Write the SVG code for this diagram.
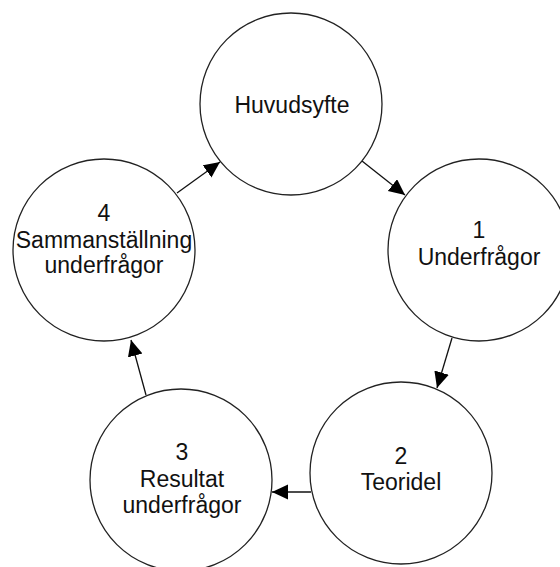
<svg xmlns="http://www.w3.org/2000/svg" width="560" height="567" viewBox="0 0 560 567">
<defs>
<style>
.n{fill:#fff;stroke:#222;stroke-width:1.3}
.t{font-family:"Liberation Sans",Arial,sans-serif;font-size:23px;fill:#111;text-anchor:middle}
.e{fill:none;stroke:#111;stroke-width:1.3}
</style>
<marker id="a" markerUnits="userSpaceOnUse" markerWidth="17" markerHeight="16" refX="16" refY="7.5" orient="auto" viewBox="0 0 17 16">
<path d="M0,0 L16,7.5 L0,15 Z" fill="#000"/>
</marker>
</defs>
<rect width="560" height="567" fill="#fff"/>
<g id="edges">
<line class="e" x1="362" y1="161" x2="405" y2="195" marker-end="url(#a)"/>
<line class="e" x1="452" y1="338" x2="437" y2="388" marker-end="url(#a)"/>
<line class="e" x1="311" y1="492" x2="272" y2="492" marker-end="url(#a)"/>
<line class="e" x1="146" y1="395" x2="131" y2="340" marker-end="url(#a)"/>
<line class="e" x1="177" y1="193" x2="220" y2="162" marker-end="url(#a)"/>
</g>
<g id="huvudsyfte">
<circle class="n" cx="291" cy="104" r="91"/>
<text class="t" x="292" y="113">Huvudsyfte</text>
</g>
<g id="underfragor">
<circle class="n" cx="479" cy="250" r="91"/>
<text class="t" x="479" y="238">1</text>
<text class="t" x="479" y="265">Underfrågor</text>
</g>
<g id="teoridel">
<circle class="n" cx="401" cy="473" r="91"/>
<text class="t" x="401" y="464">2</text>
<text class="t" x="401" y="490">Teoridel</text>
</g>
<g id="resultat">
<circle class="n" cx="181" cy="480" r="91"/>
<text class="t" x="182" y="460">3</text>
<text class="t" x="182" y="487">Resultat</text>
<text class="t" x="182" y="513">underfrågor</text>
</g>
<g id="sammanstallning">
<circle class="n" cx="104" cy="250" r="91"/>
<text class="t" x="104" y="221">4</text>
<text class="t" x="104" y="248">Sammanställning</text>
<text class="t" x="104" y="273">underfrågor</text>
</g>
</svg>
